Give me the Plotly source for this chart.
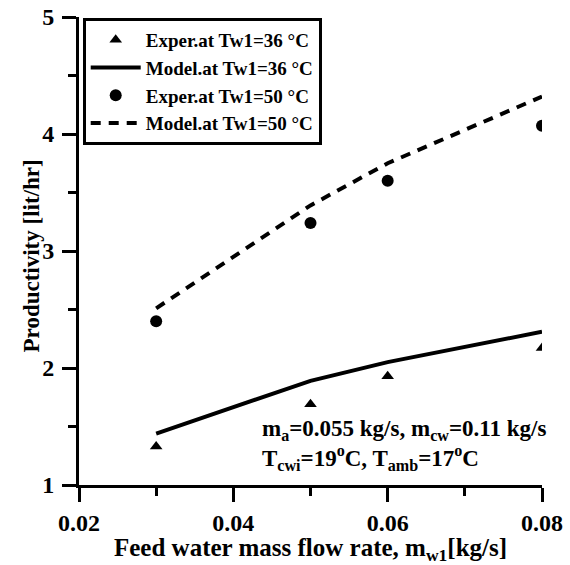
import plotly.graph_objects as go

# data
x_feed = [0.03, 0.05, 0.06, 0.08]
exp_36 = [1.33, 1.69, 1.93, 2.17]
model_36 = [1.44, 1.89, 2.05, 2.31]
exp_50 = [2.40, 3.24, 3.60, 4.07]
model_50 = [2.51, 3.39, 3.75, 4.32]

x_ticks = [0.02, 0.04, 0.06, 0.08]
x_tick_labels = ["0.02", "0.04", "0.06", "0.08"]
y_ticks = [1, 2, 3, 4, 5]

FONT = "Liberation Serif"

fig = go.Figure()
fig.add_trace(go.Scatter(x=x_feed, y=exp_36, mode="markers",
                         name="Exper.at Tw1=36 °C",
                         marker=dict(symbol="triangle-up", size=11, color="black")))
fig.add_trace(go.Scatter(x=x_feed, y=model_36, mode="lines",
                         name="Model.at Tw1=36 °C",
                         line=dict(color="black", width=4)))
fig.add_trace(go.Scatter(x=x_feed, y=exp_50, mode="markers",
                         name="Exper.at Tw1=50 °C",
                         marker=dict(symbol="circle", size=12, color="black")))
fig.add_trace(go.Scatter(x=x_feed, y=model_50, mode="lines",
                         name="Model.at Tw1=50 °C",
                         line=dict(color="black", width=4, dash="10px,8px")))

axis_common = dict(showline=True, linecolor="black", linewidth=3, mirror=False,
                   ticks="outside", ticklen=14, tickwidth=3, tickcolor="black",
                   showgrid=False, zeroline=False, automargin=False,
                   tickfont=dict(family=FONT, size=24, color="black", weight="bold"))

fig.update_xaxes(range=[0.02, 0.08], tickvals=x_ticks, ticktext=x_tick_labels,
                 minor=dict(ticks="outside", ticklen=8, tickwidth=3, tickcolor="black", dtick=0.01, tick0=0.02),
                 ticklabelstandoff=0,
                 **axis_common)
fig.update_yaxes(range=[1, 5], tickvals=y_ticks,
                 minor=dict(ticks="outside", ticklen=8, tickwidth=3, tickcolor="black", dtick=0.5, tick0=1),
                 ticklabelstandoff=3,
                 **axis_common)

# x-axis title
fig.add_annotation(xref="paper", yref="paper", x=0.5, y=-0.138, xanchor="center", yanchor="middle",
                   showarrow=False,
                   text="Feed water mass flow rate, m<sub>w1</sub>[kg/s]",
                   font=dict(family=FONT, size=25, color="black", weight="bold"))

# y-axis title
fig.add_annotation(xref="paper", yref="paper", x=-0.102, y=0.49, xanchor="center", yanchor="middle",
                   showarrow=False, textangle=-90,
                   text="Productivity [lit/hr]",
                   font=dict(family=FONT, size=23, color="black", weight="bold"))

fig.add_annotation(xref="paper", yref="paper", x=0.39, y=0.152, xanchor="left", yanchor="top",
                   align="left", showarrow=False,
                   text="m<sub>a</sub>=0.055 kg/s, m<sub>cw</sub>=0.11 kg/s<br>T<sub>cwi</sub>=19<sup>o</sup>C, T<sub>amb</sub>=17<sup>o</sup>C",
                   font=dict(family=FONT, size=23, color="black", weight="bold"))

fig.update_layout(
    width=570, height=565,
    margin=dict(l=79, r=28, t=17, b=80, autoexpand=False),
    plot_bgcolor="white", paper_bgcolor="white",
    legend=dict(x=0.008, y=0.998, xanchor="left", yanchor="top",
                bordercolor="black", borderwidth=3, bgcolor="white",
                font=dict(family=FONT, size=19, color="black", weight="bold"),
                itemwidth=50, tracegroupgap=0),
    showlegend=True,
)

fig.write_html("out.html")
